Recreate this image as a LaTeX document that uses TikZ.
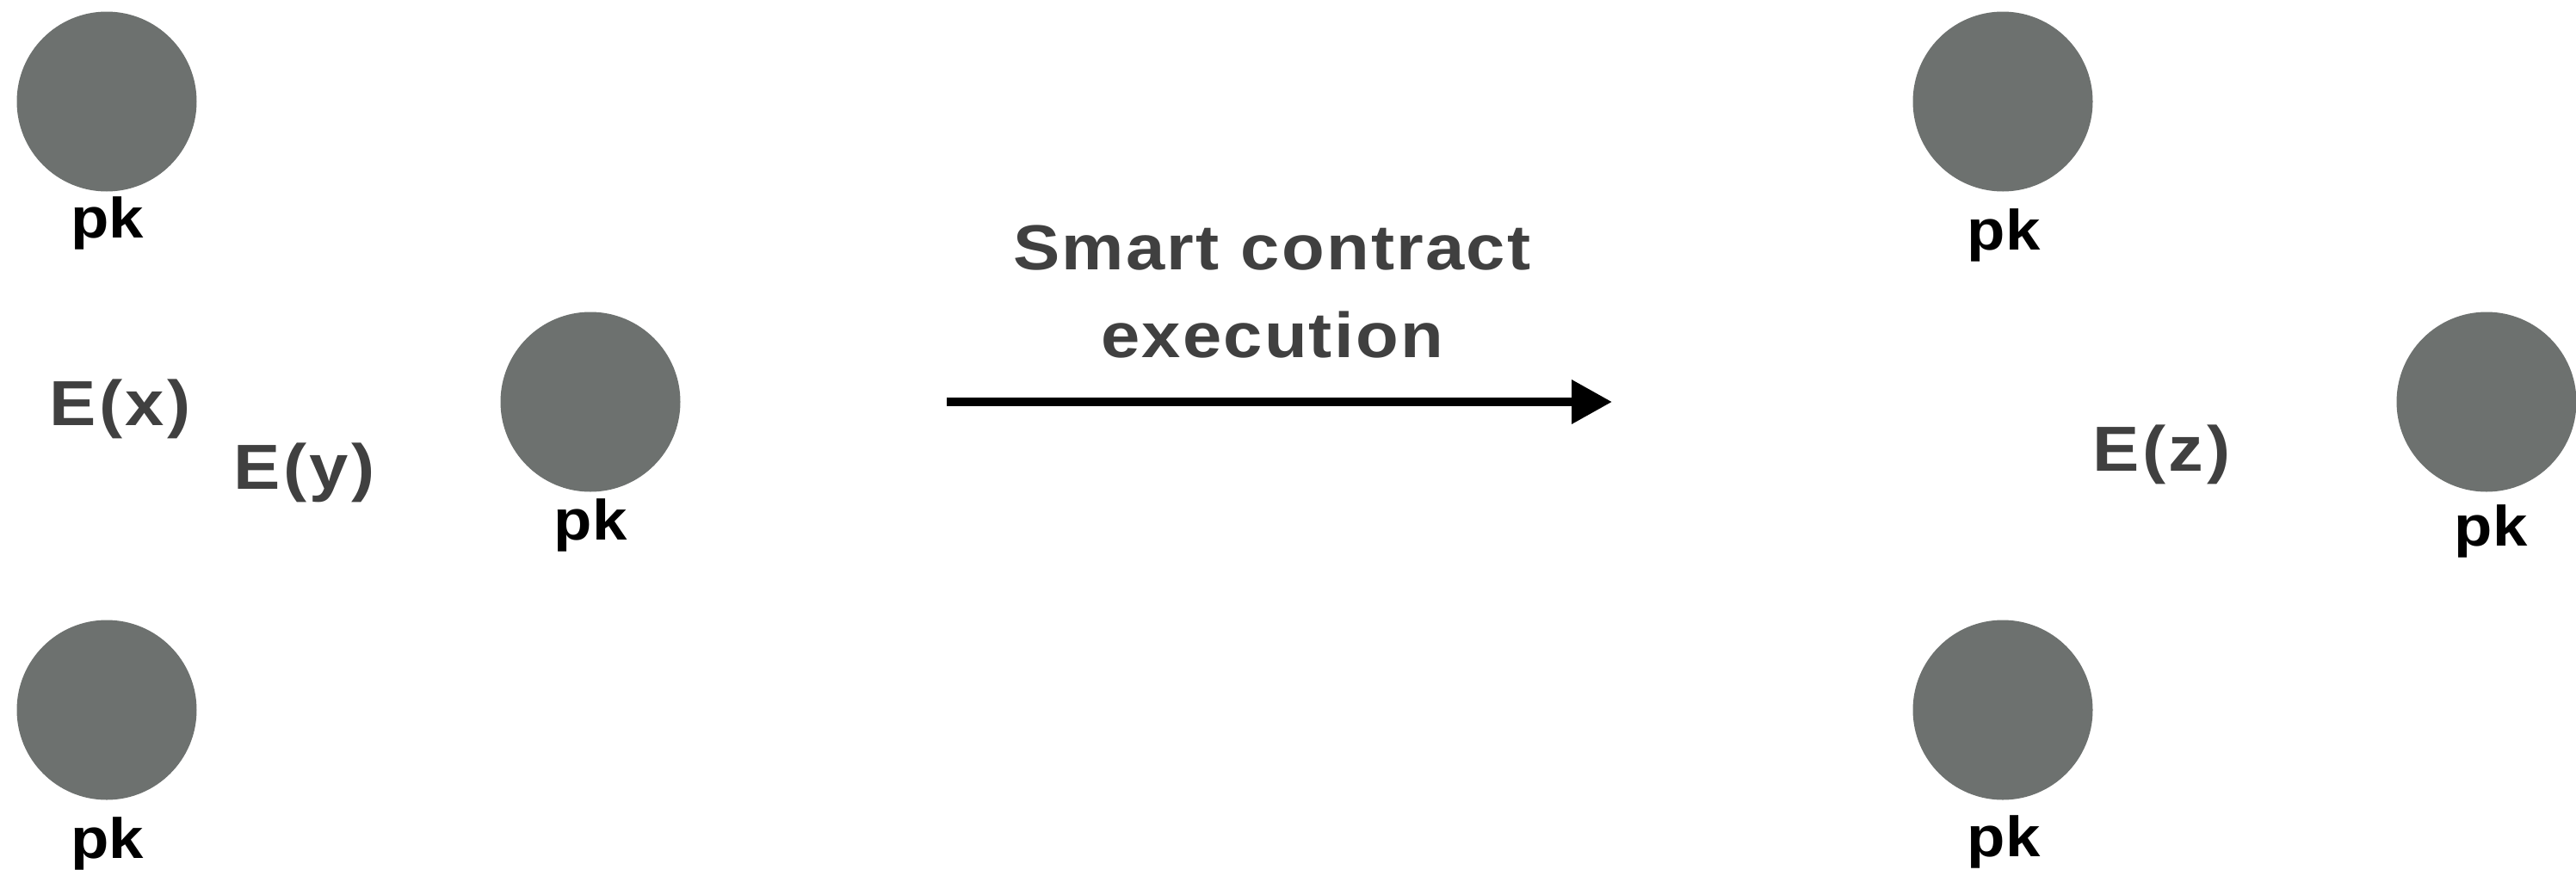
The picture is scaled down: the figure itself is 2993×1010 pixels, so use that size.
\documentclass[tikz,border=0pt]{standalone}
\usepackage{fontspec}
\setmainfont{Liberation Sans}
\newfontfamily\widesans[FakeStretch=1.1]{Liberation Sans}
\usetikzlibrary{arrows.meta}
\definecolor{dotgray}{HTML}{6D716F}
\definecolor{txtgray}{HTML}{404040}
\tikzset{
  party/.style={circle, fill=dotgray, minimum size=209pt, inner sep=0pt},
  keylabel/.style={anchor=base, inner sep=0pt, text=black, font=\widesans\fontsize{66}{66}\selectfont\bfseries},
  cipher/.style={anchor=base west, inner sep=0pt, text=txtgray, font=\widesans\fontsize{74}{74}\selectfont\bfseries\addfontfeature{LetterSpace=5}},
  caption/.style={anchor=base, inner sep=0pt, text=txtgray, font=\widesans\fontsize{74}{74}\selectfont\bfseries\addfontfeature{LetterSpace=3}},
  flow/.style={line width=10pt, -{Triangle[length=47pt,width=49pt]}}
}
\begin{document}
\begin{tikzpicture}[x=1pt,y=-1pt]
\useasboundingbox (0,0) rectangle (2993,1010);
% left group
\node[party] (c1) at (124,118) {};
\node[party] (c2) at (124,825) {};
\node[party] (c3) at (686,467) {};
\node[keylabel] (k1) at (125,276) {pk};
\node[keylabel] (k2) at (125,997) {pk};
\node[keylabel] (k3) at (686,627) {pk};
\node[cipher] (ex) at (57,494) {E(x)};
\node[cipher] (ey) at (271,568) {E(y)};
% arrow
\coordinate (a1) at (1100,467);
\coordinate (a2) at (1873,467);
\draw[flow] (a1) -- (a2);
\node[caption] (t1) at (1478,313) {Smart contract};
\node[caption] (t2) at (1478,415) {execution};
% right group
\node[party] (c4) at (2327,118) {};
\node[party] (c5) at (2327,825) {};
\node[party] (c6) at (2889,467) {};
\node[keylabel] (k4) at (2328,290) {pk};
\node[keylabel] (k5) at (2328,995) {pk};
\node[keylabel] (k6) at (2894,634) {pk};
\node[cipher] (ez) at (2431,547) {E(z)};
\end{tikzpicture}
\end{document}
